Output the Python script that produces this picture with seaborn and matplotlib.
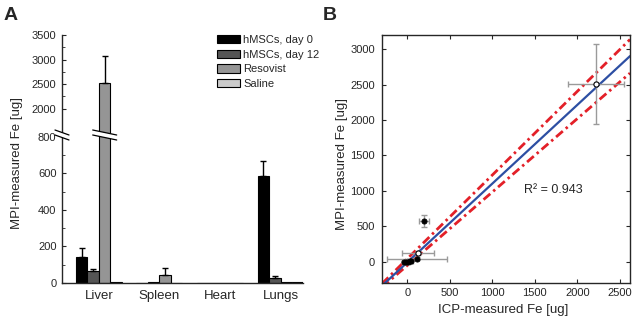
import numpy as np
import pandas as pd
import matplotlib
matplotlib.use("Agg")
import matplotlib.pyplot as plt
import seaborn as sns
from matplotlib.patches import Patch, Polygon
from matplotlib.lines import Line2D

# ---- panel A: MPI-measured iron per organ ----
organs = ["Liver", "Spleen", "Heart", "Lungs"]
groups = ["hMSCs, day 0", "hMSCs, day 12", "Resovist", "Saline"]
mpi_day0 = [144, 1, 1, 585]
mpi_day12 = [67, 3, 1, 26]
mpi_resovist = [2520, 44, 2, 4]
mpi_saline = [5, 2, 1, 3]
err_day0 = [50, 0, 0, 85]
err_day12 = [11, 0, 0, 14]
err_resovist = [550, 40, 0, 0]
err_saline = [0, 0, 0, 0]
bar_colors = ["#000000", "#555555", "#959595", "#cbcbcb"]

# ---- panel B: MPI vs ICP ----
icp_x = [2220, 195, 125, 110, -40, -20, 5, 25, 40]
mpi_y = [2510, 575, 127, 45, 0, 0, 2, 8, 15]
icp_err = [335, 60, 184, 350, 25, 25, 30, 30, 30]
mpi_err = [565, 85, 25, 20, 10, 10, 10, 10, 10]
hollow = [True, False, True, False, False, False, False, False, False]
fit_slope, fit_icept = 1.11, -6
band_hi_slope, band_hi_icept = 1.18, 45
band_lo_slope, band_lo_icept = 1.035, -50
r2_text = "R² = 0.943"

W, H = 635, 319
sns.set_style("ticks")
plt.rcParams["font.family"] = ["Liberation Sans", "DejaVu Sans"]

fig = plt.figure(figsize=(W / 100, H / 100), dpi=100)


def fx(px):
    return px / W


def fy(py):
    return 1 - py / H


df = pd.DataFrame({
    "organ": organs * 4,
    "group": [g for g in groups for _ in organs],
    "fe": mpi_day0 + mpi_day12 + mpi_resovist + mpi_saline,
})
errs = [err_day0, err_day12, err_resovist, err_saline]

ax_lo = fig.add_axes([fx(62), fy(283), fx(303 - 62), (283 - 135) / H])
ax_hi = fig.add_axes([fx(62), fy(135), fx(303 - 62), (135 - 35) / H])

for ax in (ax_lo, ax_hi):
    sns.barplot(data=df, x="organ", y="fe", hue="group", hue_order=groups,
                order=organs, palette=bar_colors, saturation=1, width=0.76,
                edgecolor="black", linewidth=0.8, legend=False, ax=ax)
    bars = list(ax.containers)
    for cont, e_list in zip(bars, errs):
        for bar, e in zip(cont, e_list):
            if e > 0:
                ax.errorbar(bar.get_x() + bar.get_width() / 2, bar.get_height(),
                            yerr=[[0], [e]], fmt="none", ecolor="black",
                            elinewidth=1, capsize=2.5, capthick=1)
    ax.set_xlim(-0.61, 3.37)
    ax.set_xlabel("")
    ax.set_ylabel("")
    ax.tick_params(axis="y", direction="in", labelsize=8, pad=4, length=3)
    ax.tick_params(axis="y", which="minor", direction="in", length=2)
    sns.despine(ax=ax)

ax_lo.set_ylim(0, 810)
ax_lo.set_yticks([0, 200, 400, 600, 800])
ax_lo.set_yticks(np.arange(100, 800, 200), minor=True)
ax_lo.tick_params(axis="x", length=0, pad=5, labelsize=9.5)
ax_lo.spines["left"].set_linewidth(1)
ax_lo.spines["bottom"].set_linewidth(1)

ax_hi.set_ylim(1460, 3500)
ax_hi.set_yticks([2000, 2500, 3000, 3500])
ax_hi.set_yticks([2250, 2750, 3250], minor=True)
ax_hi.spines["bottom"].set_visible(False)
ax_hi.spines["left"].set_linewidth(1)
ax_hi.tick_params(axis="x", bottom=False, labelbottom=False)

# break marks on the axis and on the Resovist liver bar
liver_res = ax_lo.containers[2][0]
bx = liver_res.get_x() + liver_res.get_width() / 2
bx_px = ax_lo.transData.transform((bx, 0))[0]


def break_mark(cx, cy, half):
    dy = 2.5
    gap = 2.5
    pts = [(cx - half, cy + gap + dy), (cx + half, cy + gap - dy),
           (cx + half, cy - gap - dy), (cx - half, cy - gap + dy)]
    pts = [(fx(x), y / H) for x, y in pts]
    fig.add_artist(Polygon(pts, closed=True, facecolor="white", edgecolor="none",
                           transform=fig.transFigure, zorder=5))
    for s in (gap, -gap):
        fig.add_artist(Line2D([fx(cx - half), fx(cx + half)],
                              [(cy + s + dy) / H, (cy + s - dy) / H],
                              color="black", lw=0.9, transform=fig.transFigure,
                              zorder=6))


break_mark(62, H - 135, 7)
break_mark(bx_px, H - 135, 12)

handles = [Patch(facecolor=c, edgecolor="black", linewidth=0.8) for c in bar_colors]
fig.legend(handles, groups, loc="upper left", bbox_to_anchor=(fx(217), fy(35)),
           frameon=False, borderpad=0, borderaxespad=0, handlelength=2.1,
           handleheight=0.75, handletextpad=0.25, labelspacing=0.42, fontsize=8)

fig.text(fx(17), fy(163), "MPI-measured Fe [ug]", rotation=90, ha="center",
         va="center", fontsize=9.5)
fig.text(fx(4), fy(15), "A", fontsize=14, fontweight="bold", va="center")

# ---- panel B ----
ax2 = fig.add_axes([fx(382), fy(283), fx(248), 248 / H])
ax2.set_xlim(-300, 2620)
ax2.set_ylim(-300, 3200)
xs = np.array(ax2.get_xlim())
sns.lineplot(x=xs, y=band_hi_slope * xs + band_hi_icept, color="#e32028", lw=2,
             linestyle=(0, (3.2, 1.4, 0.9, 1.4)), ax=ax2)
sns.lineplot(x=xs, y=band_lo_slope * xs + band_lo_icept, color="#e32028", lw=2,
             linestyle=(0, (3.2, 1.4, 0.9, 1.4)), ax=ax2)
sns.lineplot(x=xs, y=fit_slope * xs + fit_icept, color="#2d4fa3", lw=1.6, ax=ax2)
ax2.errorbar(icp_x, mpi_y, xerr=icp_err, yerr=mpi_err, fmt="none",
             ecolor="#9a9a9a", elinewidth=1, capsize=2, capthick=1)
pts = pd.DataFrame({"x": icp_x, "y": mpi_y, "hollow": hollow})
sns.scatterplot(data=pts[~pts.hollow], x="x", y="y", color="black", s=14,
                edgecolor="black", linewidth=0.6, ax=ax2, zorder=4)
sns.scatterplot(data=pts[pts.hollow], x="x", y="y", color="white", s=14,
                edgecolor="black", linewidth=0.8, ax=ax2, zorder=4)
ax2.set_xticks([0, 500, 1000, 1500, 2000, 2500])
ax2.set_yticks([0, 500, 1000, 1500, 2000, 2500, 3000])
ax2.tick_params(direction="in", top=True, right=True, labelsize=8, length=3)
ax2.tick_params(axis="y", pad=5)
ax2.tick_params(axis="x", pad=3.5)
for sp in ax2.spines.values():
    sp.set_linewidth(1)
ax2.set_xlabel("")
ax2.set_ylabel("")
ax2.text(1368, 1015, r2_text, fontsize=9, va="center")

fig.text(fx(342), fy(164), "MPI-measured Fe [ug]", rotation=90, ha="center",
         va="center", fontsize=9.5)
fig.text(fx(503), fy(310), "ICP-measured Fe [ug]", ha="center", va="center",
         fontsize=9.5)
fig.text(fx(323), fy(15), "B", fontsize=14, fontweight="bold", va="center")

fig.savefig("out.png", dpi=100)
